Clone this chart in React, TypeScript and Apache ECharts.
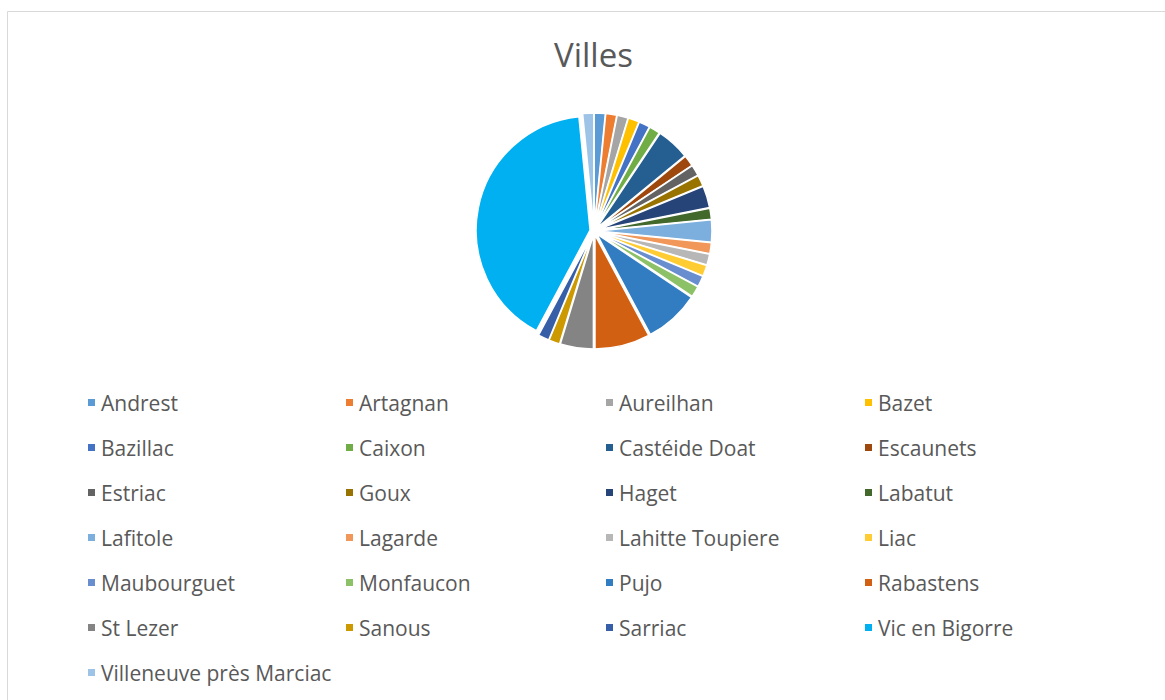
import React, { useEffect, useRef } from "react";
import * as echarts from "echarts";

const title = "Villes";

const villes = [
  "Andrest", "Artagnan", "Aureilhan", "Bazet", "Bazillac", "Caixon", "Castéide Doat",
  "Escaunets", "Estriac", "Goux", "Haget", "Labatut", "Lafitole", "Lagarde",
  "Lahitte Toupiere", "Liac", "Maubourguet", "Monfaucon", "Pujo", "Rabastens",
  "St Lezer", "Sanous", "Sarriac", "Vic en Bigorre", "Villeneuve près Marciac",
];

const valeurs = [
  1, 1, 1, 1, 1, 1, 3,
  1, 1, 1, 2, 1, 2, 1,
  1, 1, 1, 1, 5, 5,
  3, 1, 1, 26, 1,
];

const couleurs = [
  "#5B9BD5", "#ED7D31", "#A5A5A5", "#FFC000", "#4472C4", "#70AD47", "#255E91",
  "#9E480E", "#636363", "#997300", "#264478", "#43682B", "#7CAFDD", "#F1975A",
  "#B7B7B7", "#FFCD33", "#698ED0", "#8CC168", "#327DC2", "#D26012",
  "#848484", "#CC9A00", "#365FA8", "#00B0F0", "#9DC3E6",
];

const legendColumnsX = [86, 344, 604, 863];

export default function App() {
  const ref = useRef<HTMLDivElement>(null);
  useEffect(() => {
    if (!ref.current) return;
    const chart = echarts.init(ref.current, null, { renderer: "svg" });
    const font = "'Open Sans', 'Liberation Sans', sans-serif";
    const legends = legendColumnsX.map((x, col) => ({
      orient: "vertical" as const,
      left: x,
      top: 392,
      padding: 0,
      itemWidth: 9,
      itemHeight: 9,
      itemGap: 24,
      icon: "rect",
      selectedMode: false,
      data: villes.filter((_, i) => i % 4 === col),
      textStyle: { fontFamily: font, fontSize: 21, color: "#595959" },
    }));
    chart.setOption({
      animation: false,
      color: couleurs,
      title: {
        text: title,
        left: 554,
        top: 38,
        padding: 0,
        textStyle: { fontFamily: font, fontSize: 33, fontWeight: "normal", color: "#595959" },
      },
      legend: legends,
      graphic: [
        {
          type: "rect",
          shape: { x: 7.5, y: 11.5, width: 1200, height: 720 },
          style: { fill: "none", stroke: "#D9D9D9", lineWidth: 1 },
          silent: true,
        },
      ],
      series: [
        {
          type: "pie",
          center: [594, 231],
          radius: [0, 114],
          startAngle: 90,
          clockwise: true,
          selectedMode: "multiple",
          selectedOffset: 4,
          label: { show: false },
          labelLine: { show: false },
          itemStyle: { borderColor: "#ffffff", borderWidth: 1.5 },
          data: villes.map((name, i) => ({ name, value: valeurs[i], selected: true })),
        },
      ],
    });
    return () => chart.dispose();
  }, []);
  return (
    <div
      ref={ref}
      style={{ position: "fixed", left: 0, top: 0, width: 1165, height: 700, background: "#fff" }}
    />
  );
}
